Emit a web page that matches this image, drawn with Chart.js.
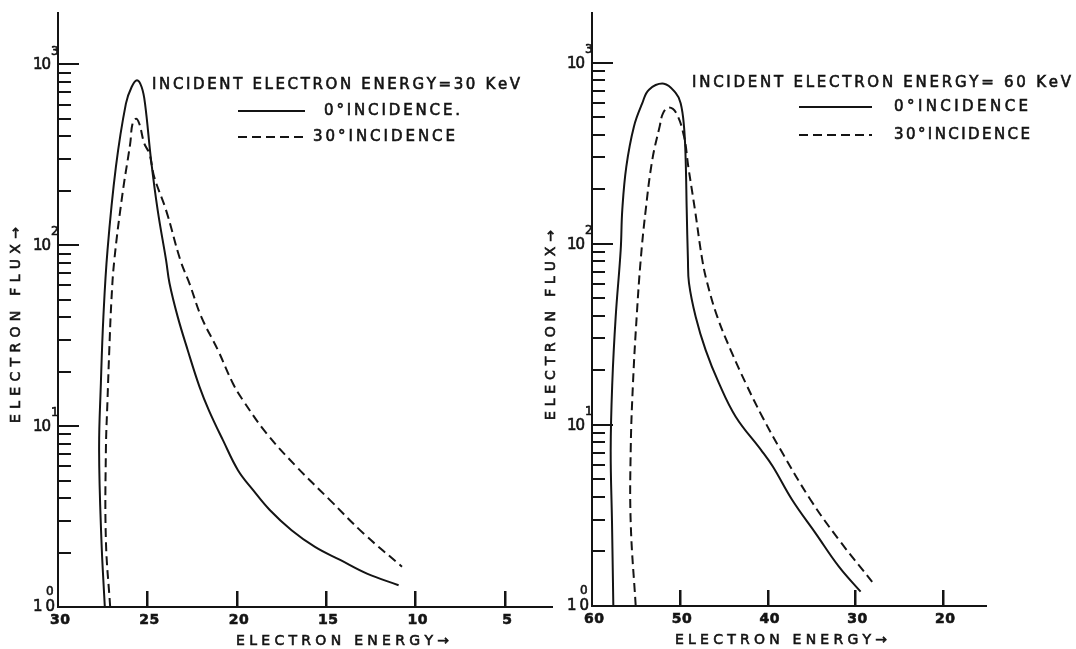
<!DOCTYPE html>
<html>
<head>
<meta charset="utf-8">
<script src="https://cdn.jsdelivr.net/npm/chart.js@4.4.1/dist/chart.umd.min.js"></script>
<style>
  html, body { margin: 0; padding: 0; background: #fff; }
  body { width: 1076px; height: 649px; position: relative; overflow: hidden; }
  .panel { position: absolute; top: 0; height: 649px; }
  #p30 { left: 0; width: 560px; }
  #p60 { left: 540px; width: 536px; }
</style>
</head>
<body>
<div class="panel" id="p30"><canvas id="c30"></canvas></div>
<div class="panel" id="p60"><canvas id="c60"></canvas></div>
<script>
// ---- data (energy in keV, flux) ----
// 30 keV incident, 0 deg
const e30Normal = [27.38, 27.57, 27.70, 27.60, 27.46, 27.23, 26.76, 26.20, 25.88, 25.58, 25.32, 25.13, 24.79, 24.42, 23.95, 23.76, 23.30, 22.74, 22.08, 21.55, 20.77, 19.93, 19.08, 18.15, 16.93, 15.62, 14.21, 12.71, 10.94];
const f30Normal = [1.0, 2.34, 7.36, 17.3, 40.2, 93.8, 271, 607, 750, 817, 750, 607, 295, 156, 82.6, 61.7, 40.2, 26.3, 16.5, 12.2, 8.37, 5.71, 4.43, 3.44, 2.66, 2.15, 1.82, 1.53, 1.32];
// 30 keV incident, 30 deg
const e30Oblique = [27.08, 27.32, 27.32, 27.23, 27.13, 27.01, 26.85, 26.39, 25.96, 25.83, 25.63, 25.45, 25.17, 24.89, 24.61, 23.95, 23.15, 22.64, 21.98, 21.05, 20.21, 19.65, 18.33, 16.65, 14.78, 12.90, 10.75];
const f30Oblique = [1.0, 2.34, 7.36, 13.9, 26.3, 49.7, 82.6, 193, 365, 470, 501, 470, 365, 322, 238, 156, 82.6, 61.4, 40.2, 26.3, 17.2, 13.9, 9.12, 5.96, 3.90, 2.55, 1.67];
// 60 keV incident, 0 deg
const e60Normal = [57.57, 57.72, 57.87, 57.69, 57.30, 56.73, 56.55, 56.09, 55.22, 54.27, 53.51, 51.80, 50.47, 49.90, 49.52, 49.33, 49.21, 49.07, 48.95, 48.19, 47.05, 45.54, 43.63, 40.75, 39.40, 37.19, 34.52, 31.87, 29.40];
const f60Normal = [1.0, 2.88, 7.28, 17.0, 39.6, 92.7, 154, 267, 445, 598, 710, 766, 681, 598, 445, 291, 154, 81.7, 60.7, 39.6, 25.9, 17.0, 11.1, 7.28, 5.89, 3.85, 2.52, 1.65, 1.20];
// 60 keV incident, 30 deg
const e60Oblique = [55.02, 55.59, 55.59, 55.33, 54.91, 54.45, 53.88, 53.13, 52.29, 51.90, 51.23, 50.40, 49.52, 49.03, 48.27, 47.44, 46.87, 45.73, 44.20, 42.49, 40.60, 38.51, 35.09, 31.87, 28.08];
const f60Oblique = [1.0, 2.88, 7.28, 17.0, 39.6, 81.7, 154, 291, 445, 527, 566, 527, 392, 267, 154, 81.7, 60.7, 39.6, 25.9, 17.0, 11.1, 7.28, 3.85, 2.32, 1.36];

// ---- axes ----
const xTicks30 = [30, 25, 20, 15, 10, 5];
const xTicks60 = [60, 50, 40, 30, 20];
const yDecades = [0, 1, 2, 3];
const yMinors = [2, 3, 4, 5, 6, 7, 8, 9];

const INK = '#141414';
const FONT = '"DejaVu Sans", sans-serif';

const pts = (xs, ys) => xs.map((x, i) => ({ x: x, y: ys[i] }));

// Helper: draw text with its letters spread to a given width (thin stroke = heavier ink)
function spaced(ctx, text, x, y, width) {
    const chars = [...text];
    const natural = chars.reduce((s, c) => s + ctx.measureText(c).width, 0);
    const gap = chars.length > 1 ? (width - natural) / (chars.length - 1) : 0;
    let cx = x;
    ctx.fillStyle = INK;
    ctx.strokeStyle = INK;
    ctx.lineWidth = 0.6;
    ctx.setLineDash([]);
    chars.forEach(c => {
        ctx.fillText(c, cx, y);
        ctx.strokeText(c, cx, y);
        cx += ctx.measureText(c).width + gap;
    });
}

// Helper: a filled bar for straight axis strokes
function bar(ctx, x0, y0, x1, y1, w) {
    ctx.fillStyle = INK;
    if (x0 === x1) ctx.fillRect(Math.round(x0) - w / 2, Math.min(y0, y1), w, Math.abs(y1 - y0));
    else ctx.fillRect(Math.min(x0, x1), Math.round(y0) - w / 2, Math.abs(x1 - x0), w);
}

// Plugin: axis lines, inward ticks, labels, titles and the key, all drawn last
function decor(p) {
    return {
        id: 'decor',
        afterDraw(chart) {
            const ctx = chart.ctx, a = chart.chartArea;
            const xs = chart.scales.x, ys = chart.scales.y;
            const o = p.offset;
            ctx.save();
            ctx.globalAlpha = 1;
            ctx.globalCompositeOperation = 'source-over';

            // axis lines
            bar(ctx, a.left, a.top, a.left, a.bottom + 1, 2);
            bar(ctx, a.left - 1, a.bottom, a.right, a.bottom, 2);

            // inward x ticks at the labelled energies
            p.xTicks.slice(1).forEach(v => {
                const px = Math.round(xs.getPixelForValue(v));
                ctx.fillStyle = INK;
                ctx.fillRect(px - 1, a.bottom - 16, 2.5, 16);
            });

            // inward y ticks, long at decades
            yDecades.forEach(d => {
                const v = Math.pow(10, d);
                const py = ys.getPixelForValue(v);
                if (d > 0) bar(ctx, a.left, py, a.left + 21, py, 2);
                if (d < 3) {
                    yMinors.forEach(m => {
                        const q = ys.getPixelForValue(m * v);
                        bar(ctx, a.left, q, a.left + 13, q, 2);
                    });
                }
            });

            // key lines
            p.key.forEach(k => {
                if (k.dash.length) {
                    for (let x = k.x0; x < k.x1; x += k.dash[0] + k.dash[1]) {
                        bar(ctx, x - o, k.y, Math.min(x + k.dash[0], k.x1) - o, k.y, 2);
                    }
                } else {
                    bar(ctx, k.x0 - o, k.y, k.x1 - o, k.y, 2);
                }
            });

            ctx.textBaseline = 'middle';
            ctx.textAlign = 'left';

            // 10^n labels
            yDecades.forEach(d => {
                const py = ys.getPixelForValue(Math.pow(10, d));
                ctx.font = '15px ' + FONT;
                if (d === 0) {
                    spaced(ctx, '10', a.left - 25, py, 22);
                    ctx.font = '12px ' + FONT;
                    spaced(ctx, String(d), a.left - 12, py - 15, 7);
                } else {
                    spaced(ctx, '10', a.left - 25, py + 1, 18);
                    ctx.font = '12px ' + FONT;
                    spaced(ctx, String(d), a.left - 7, py - 13, 7);
                }
            });

            // energy numbers
            ctx.font = 'bold 14px ' + FONT;
            p.xTicks.forEach(v => {
                const px = xs.getPixelForValue(v);
                const t = String(v);
                const w = t.length > 1 ? 20 : 9;
                spaced(ctx, t, px + 2 - w / 2, a.bottom + 13, w);
            });

            // axis titles
            ctx.font = '14px ' + FONT;
            spaced(ctx, 'ELECTRON ENERGY\u2192', p.xTitle.x0 - o, p.xTitle.y, p.xTitle.x1 - p.xTitle.x0);
            ctx.save();
            ctx.translate(p.yTitle.x - o, p.yTitle.y0);
            ctx.rotate(-Math.PI / 2);
            spaced(ctx, 'ELECTRON FLUX\u2192', 0, 0, p.yTitle.y0 - p.yTitle.y1);
            ctx.restore();

            // heading and key text
            ctx.font = '15px ' + FONT;
            spaced(ctx, p.note.text, p.note.x0 - o, p.note.y, p.note.x1 - p.note.x0);
            p.key.forEach(k => spaced(ctx, k.text, k.t0 - o, k.y, k.t1 - k.t0));
            ctx.restore();
        }
    };
}

function makePanel(id, p) {
    new Chart(document.getElementById(id), {
        type: 'scatter',
        data: {
            datasets: [
                {
                    data: pts(p.eNormal, p.fNormal),
                    showLine: true, borderColor: INK, borderWidth: 2,
                    pointRadius: 0, tension: 0.4
                },
                {
                    data: pts(p.eOblique, p.fOblique),
                    showLine: true, borderColor: INK, borderWidth: 2,
                    borderDash: [9, 5], pointRadius: 0, tension: 0.4
                }
            ]
        },
        options: {
            responsive: true,
            maintainAspectRatio: false,
            animation: false,
            devicePixelRatio: 1,
            layout: { padding: p.pad },
            plugins: { legend: { display: false }, tooltip: { enabled: false } },
            scales: {
                x: { type: 'linear', display: false, reverse: true, min: p.xMin, max: p.xMax },
                y: { type: 'logarithmic', display: false, min: 1, max: p.yMax }
            }
        },
        plugins: [decor(p)]
    });
}

makePanel('c30', {
    offset: 0,
    eNormal: e30Normal, fNormal: f30Normal,
    eOblique: e30Oblique, fOblique: f30Oblique,
    xMin: 2.3, xMax: 30, yMax: Math.pow(10, 3.29),
    pad: { left: 58, right: 7, top: 12, bottom: 42 },
    xTicks: xTicks30,
    note: { text: 'INCIDENT ELECTRON ENERGY=30 KeV', x0: 152, x1: 520, y: 85 },
    key: [
        { dash: [], x0: 238, x1: 305, y: 111, text: '0\u00B0INCIDENCE.', t0: 324, t1: 460 },
        { dash: [9, 5], x0: 238, x1: 306, y: 137, text: '30\u00B0INCIDENCE', t0: 313, t1: 455 }
    ],
    xTitle: { x0: 236, x1: 449, y: 641 },
    yTitle: { x: 16, y0: 423, y1: 227 }
});

makePanel('c60', {
    offset: 540,
    eNormal: e60Normal, fNormal: f60Normal,
    eOblique: e60Oblique, fOblique: f60Oblique,
    xMin: 15, xMax: 60, yMax: Math.pow(10, 3.28),
    pad: { left: 52, right: 89, top: 12, bottom: 43 },
    xTicks: xTicks60,
    note: { text: 'INCIDENT ELECTRON ENERGY= 60 KeV', x0: 692, x1: 1071, y: 83 },
    key: [
        { dash: [], x0: 799, x1: 872, y: 107, text: '0\u00B0INCIDENCE', t0: 894, t1: 1028 },
        { dash: [9, 5], x0: 799, x1: 872, y: 135, text: '30\u00B0INCIDENCE', t0: 894, t1: 1030 }
    ],
    xTitle: { x0: 675, x1: 887, y: 640 },
    yTitle: { x: 551, y0: 420, y1: 230 }
});
</script>
</body>
</html>
